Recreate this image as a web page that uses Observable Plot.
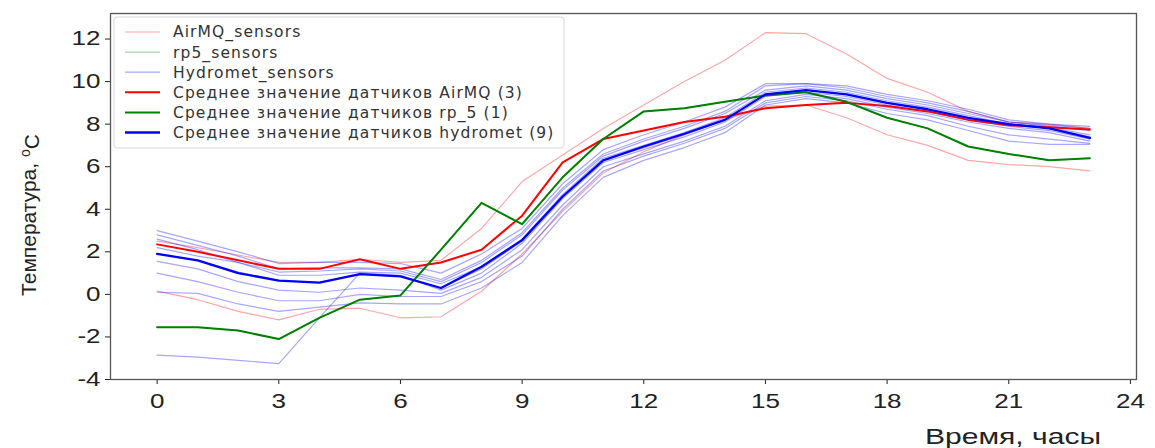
<!DOCTYPE html>
<html>
<head>
<meta charset="utf-8">
<script src="https://cdn.jsdelivr.net/npm/d3@7"></script>
<script src="https://cdn.jsdelivr.net/npm/@observablehq/plot@0.6"></script>
<style>
  html, body { margin: 0; padding: 0; background: #fff; }
  #chart { width: 1155px; height: 448px; }
</style>
</head>
<body>
<div id="chart"></div>
<script>
// ---- data ----
const hours = [0,1,2,3,4,5,6,7,8,9,10,11,12,13,14,15,16,17,18,19,20,21,22,23];
const xTicks = [0,3,6,9,12,15,18,21,24];
const yTicks = [-4,-2,0,2,4,6,8,10,12];

// AirMQ individual sensors (thin pink)
const airmqA = [2.5,2.2,1.85,1.5,1.5,1.65,1.5,1.6,3.1,5.3,6.55,7.8,8.9,10.0,11.0,12.3,12.25,11.3,10.15,9.5,8.6,8.1,8.0,7.8];
const airmqB = [0.15,-0.25,-0.8,-1.2,-0.7,-0.65,-1.1,-1.05,0.15,1.9,3.9,5.7,6.7,7.5,8.2,8.85,8.9,8.3,7.5,7.0,6.3,6.1,6.0,5.8];

// rp5 sensor (thin green)
const rp5A = [-1.55,-1.55,-1.7,-2.1,-1.1,-0.25,-0.05,2.1,4.3,3.3,5.5,7.3,8.6,8.75,9.05,9.35,9.5,9.05,8.3,7.8,6.95,6.6,6.3,6.4];

// Hydromet sensors (thin blue)
const hyd1 = [3.0,2.5,2.0,1.45,1.5,1.5,1.45,1.0,1.9,3.1,5.2,6.8,7.5,8.1,8.8,9.9,9.9,9.8,9.4,9.1,8.7,8.2,8.0,7.9];
const hyd2 = [2.8,2.3,1.8,1.2,1.25,1.25,1.2,0.7,1.6,2.9,5.0,6.6,7.3,7.9,8.6,9.8,9.9,9.7,9.3,9.0,8.6,8.1,7.95,7.8];
const hyd3 = [2.6,2.1,1.5,0.9,0.9,1.05,1.0,0.5,1.3,2.6,4.7,6.4,7.0,7.6,8.3,9.5,9.7,9.5,9.1,8.8,8.4,8.0,7.85,7.5];
const hyd4 = [1.9,1.6,1.05,0.65,0.55,0.95,0.85,0.3,1.2,2.5,4.6,6.3,6.9,7.5,8.2,9.4,9.6,9.4,9.0,8.7,8.3,8.0,7.8,7.4];
const hyd5 = [2.2,1.8,1.5,1.05,1.1,1.2,1.1,0.6,1.5,2.8,4.9,6.5,7.2,7.8,8.5,9.6,9.8,9.6,9.2,8.9,8.5,8.1,7.9,7.7];
const hyd6 = [1.55,1.2,0.6,0.2,0.1,0.3,0.2,0.05,0.8,2.1,4.2,6.0,6.6,7.2,7.9,9.1,9.4,9.2,8.8,8.5,8.1,7.8,7.6,7.2];
const hyd7 = [1.0,0.6,0.1,-0.3,-0.3,0.0,-0.1,-0.1,0.6,1.8,4.0,5.8,6.5,7.1,7.8,9.0,9.3,9.1,8.7,8.4,7.9,7.5,7.3,7.1];
const hyd8 = [0.1,0.05,-0.45,-0.8,-0.6,-0.4,-0.45,-0.45,0.3,1.5,3.7,5.5,6.3,6.9,7.6,8.9,9.2,9.0,8.5,8.2,7.7,7.2,7.05,7.05];
const hyd9 = [-2.85,-2.95,-3.1,-3.25,-1.1,1.0,0.9,0.2,1.0,2.4,4.5,6.2,6.8,7.4,8.1,9.3,9.5,9.3,8.9,8.6,8.2,7.9,7.7,7.3];

// Mean lines
const meanAirMQ = [2.35,2.0,1.6,1.2,1.2,1.65,1.2,1.5,2.1,3.7,6.2,7.3,7.7,8.1,8.35,8.75,8.9,9.0,8.85,8.6,8.2,7.95,7.85,7.75];
const meanRp5 = [-1.55,-1.55,-1.7,-2.1,-1.1,-0.25,-0.05,2.1,4.3,3.3,5.5,7.3,8.6,8.75,9.05,9.35,9.5,9.05,8.3,7.8,6.95,6.6,6.3,6.4];
const meanHydromet = [1.9,1.6,1.0,0.65,0.55,0.95,0.85,0.3,1.3,2.55,4.6,6.3,6.95,7.55,8.2,9.4,9.6,9.4,9.0,8.7,8.3,8.0,7.8,7.35];

const legendLabels = [
  "AirMQ_sensors",
  "rp5_sensors",
  "Hydromet_sensors",
  "Среднее значение датчиков AirMQ (3)",
  "Среднее значение датчиков rp_5 (1)",
  "Среднее значение датчиков hydromet (9)"
];
const xLabel = "Время, часы";
const yLabelMain = "Температура, ";
const yLabelSup = "o";
const yLabelUnit = "C";

// ---- build rows ----
function rows(id, vals) { return hours.map((h, i) => ({id, hour: h, value: vals[i]})); }
const thinPink = [rows("a1", airmqA), rows("a2", airmqB)].flat();
const thinGreen = rows("r1", rp5A);
const thinBlue = [hyd1,hyd2,hyd3,hyd4,hyd5,hyd6,hyd7,hyd8,hyd9].map((v,i)=>rows("h"+i, v)).flat();

const styles = [
  {stroke: "#ff0000", opacity: 0.35, width: 1.2},
  {stroke: "#008000", opacity: 0.35, width: 1.2},
  {stroke: "#0000ff", opacity: 0.35, width: 1.2},
  {stroke: "#ff0000", opacity: 1, width: 2},
  {stroke: "#008000", opacity: 1, width: 2},
  {stroke: "#0000ff", opacity: 1, width: 2.3}
];

const W = 1155, H = 448;
const chart = Plot.plot({
  width: W,
  height: H,
  marginLeft: 110,
  marginRight: 19,
  marginTop: 13,
  marginBottom: 69,
  style: {fontFamily: "'Liberation Sans', Arial, sans-serif", fontSize: "20px", color: "#222", background: "#fff"},
  x: {domain: [-1.15, 24.15], ticks: xTicks, tickSize: 5, tickPadding: 9, label: null, tickFormat: d => String(d)},
  y: {domain: [-4, 13.2], ticks: yTicks, tickSize: 5, tickPadding: 5, label: null, tickFormat: d => String(d)},
  marks: [
    Plot.line(thinPink, {x: "hour", y: "value", z: "id", stroke: styles[0].stroke, strokeOpacity: styles[0].opacity, strokeWidth: styles[0].width}),
    Plot.line(thinGreen, {x: "hour", y: "value", z: "id", stroke: styles[1].stroke, strokeOpacity: styles[1].opacity, strokeWidth: styles[1].width}),
    Plot.line(thinBlue, {x: "hour", y: "value", z: "id", stroke: styles[2].stroke, strokeOpacity: styles[2].opacity, strokeWidth: styles[2].width}),
    Plot.line(rows("mA", meanAirMQ), {x: "hour", y: "value", stroke: styles[3].stroke, strokeWidth: styles[3].width}),
    Plot.line(rows("mR", meanRp5), {x: "hour", y: "value", stroke: styles[4].stroke, strokeWidth: styles[4].width}),
    Plot.line(rows("mH", meanHydromet), {x: "hour", y: "value", stroke: styles[5].stroke, strokeWidth: styles[5].width}),
    Plot.frame({stroke: "#555", strokeWidth: 1.3})
  ]
});
document.getElementById("chart").appendChild(chart);

const svg = d3.select(chart);

// widen tick labels slightly, as in the reference
svg.selectAll("g[aria-label='x-axis tick label'] text, g[aria-label='y-axis tick label'] text").each(function() {
  const len = this.getComputedTextLength();
  if (len > 0) {
    d3.select(this).attr("textLength", len * 1.3).attr("lengthAdjust", "spacingAndGlyphs");
  }
});

// ---- legend and axis titles ----
const lg = svg.append("g").attr("font-family", "'DejaVu Sans', Verdana, sans-serif").attr("font-size", 15.5)
  .attr("letter-spacing", "1.1px").attr("text-anchor", "start");
lg.append("rect").attr("x", 114).attr("y", 17).attr("width", 450).attr("height", 131)
  .attr("rx", 3).attr("fill", "#fff").attr("fill-opacity", 0.85).attr("stroke", "#d8d8d8");
legendLabels.forEach((t, i) => {
  const y = 32 + i * 20.1;
  lg.append("line").attr("x1", 125).attr("x2", 160).attr("y1", y).attr("y2", y)
    .attr("stroke", styles[i].stroke).attr("stroke-opacity", styles[i].opacity).attr("stroke-width", styles[i].width);
  lg.append("text").attr("x", 173).attr("y", y).attr("dy", "0.35em").attr("text-anchor", "start").attr("fill", "#333").text(t);
});

svg.append("text").attr("x", 925).attr("y", 444).attr("text-anchor", "start")
  .attr("font-family", "'Liberation Sans', Arial, sans-serif").attr("font-size", 22)
  .attr("textLength", 176).attr("lengthAdjust", "spacingAndGlyphs").attr("fill", "#222").text(xLabel);

const yl = svg.append("text").attr("transform", "translate(36,215) rotate(-90)").attr("text-anchor", "middle")
  .attr("font-family", "'Liberation Sans', Arial, sans-serif").attr("font-size", 21).attr("fill", "#222");
yl.append("tspan").text(yLabelMain);
yl.append("tspan").attr("dy", "-0.45em").attr("font-size", 14).text(yLabelSup);
yl.append("tspan").attr("dy", "0.45em").text(yLabelUnit);
</script>
</body>
</html>
